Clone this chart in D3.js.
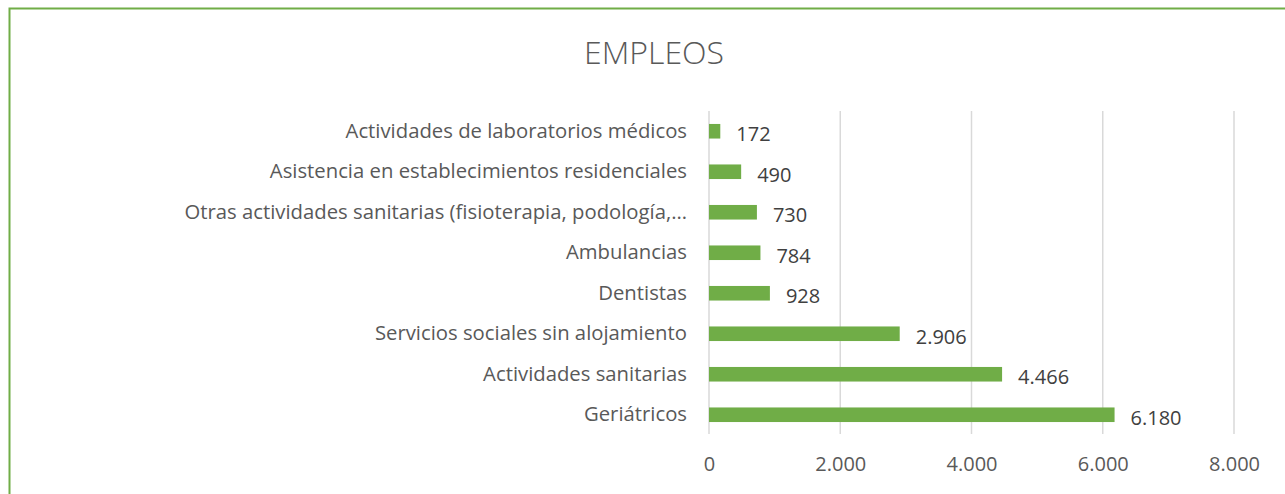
<!DOCTYPE html>
<html>
<head>
<meta charset="utf-8">
<script src="https://cdn.jsdelivr.net/npm/d3@7"></script>
<style>
  body { margin: 0; background: #fff; }
  svg { display: block; font-family: "Open Sans", sans-serif; }
</style>
</head>
<body>
<svg id="chart" width="1285" height="494"></svg>
<script>
const categories = [
    "Actividades de laboratorios médicos",
    "Asistencia en establecimientos residenciales",
    "Otras actividades sanitarias (fisioterapia, podología,…",
    "Ambulancias",
    "Dentistas",
    "Servicios sociales sin alojamiento",
    "Actividades sanitarias",
    "Geriátricos"
];
const values = [172, 490, 730, 784, 928, 2906, 4466, 6180];
const xTicks = [0, 2000, 4000, 6000, 8000];

const data = categories.map((c, i) => ({ cat: c, value: values[i] }));
const fmt = d3.formatLocale({ decimal: ",", thousands: ".", grouping: [3], currency: ["", "€"] }).format(",d");

const svg = d3.select("#chart");
const green = "#70AD47";
const textColor = "#595959";

// chart frame
svg.append("rect")
    .attr("x", 9.5).attr("y", 8.5)
    .attr("width", 1290).attr("height", 500)
    .attr("fill", "none")
    .attr("stroke", green)
    .attr("stroke-width", 2);

svg.append("text")
    .attr("x", 654).attr("y", 64)
    .attr("text-anchor", "middle")
    .attr("fill", textColor)
    .style("font-size", "32px")
    .style("font-weight", 300)
    .text("EMPLEOS");

const x = d3.scaleLinear().domain([0, 8000]).range([709, 1234]);
const y = d3.scaleBand().domain(categories).range([111, 435]).paddingInner(0.64).paddingOuter(0.32);

// gridlines
svg.append("g")
    .selectAll("line")
    .data(xTicks)
    .enter().append("line")
    .attr("x1", d => x(d)).attr("x2", d => x(d))
    .attr("y1", 111).attr("y2", 434)
    .attr("stroke", "#d9d9d9")
    .attr("stroke-width", 1.5);

// x axis labels
const xAxis = d3.axisBottom(x).tickValues(xTicks).tickSize(0).tickPadding(0).tickFormat(fmt);
svg.append("g")
    .attr("transform", "translate(0,454)")
    .call(xAxis)
    .call(g => g.select(".domain").remove())
    .selectAll("text")
    .attr("fill", textColor)
    .attr("dy", "0.85em")
    .style("font-family", "'Open Sans', sans-serif")
    .style("font-size", "20px");

// y axis labels
const yAxis = d3.axisLeft(y).tickSize(0).tickPadding(22);
svg.append("g")
    .attr("transform", `translate(${x(0)},0)`)
    .call(yAxis)
    .call(g => g.select(".domain").remove())
    .selectAll("text")
    .attr("fill", textColor)
    .style("font-family", "'Open Sans', sans-serif")
    .style("font-size", "20.3px");

// bars
svg.selectAll(".bar")
    .data(data)
    .enter().append("rect")
    .attr("class", "bar")
    .attr("x", x(0))
    .attr("y", d => y(d.cat))
    .attr("width", d => x(d.value) - x(0))
    .attr("height", y.bandwidth())
    .attr("fill", green);

// value labels
svg.selectAll(".val")
    .data(data)
    .enter().append("text")
    .attr("class", "val")
    .attr("x", d => x(d.value) + 16)
    .attr("y", d => y(d.cat) + y.bandwidth() / 2 + 3)
    .attr("dy", "0.35em")
    .attr("fill", "#404040")
    .style("font-size", "20px")
    .text(d => fmt(d.value));
</script>
</body>
</html>
